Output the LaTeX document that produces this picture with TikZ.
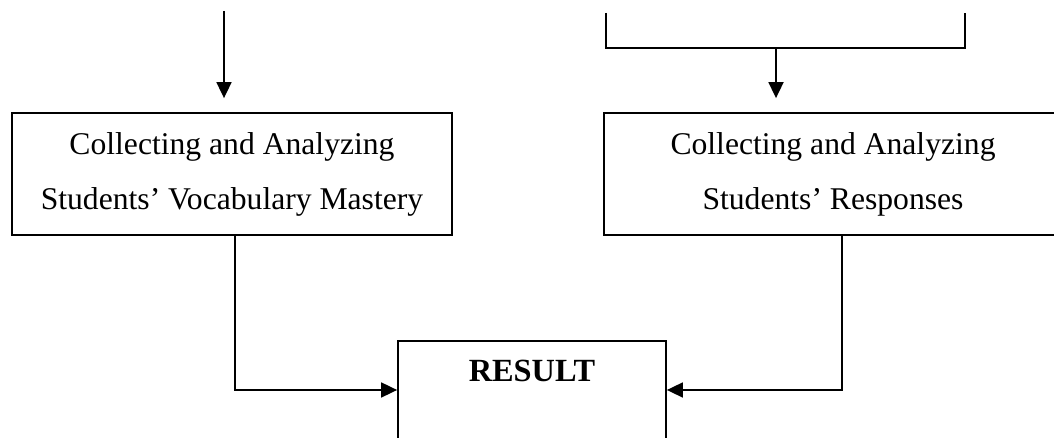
\documentclass[tikz,border=0pt]{standalone}
\usepackage{fontspec}
\setmainfont{Liberation Serif}
\usetikzlibrary{arrows.meta}
\tikzset{
  stage/.style={shape=rectangle,draw=black,line width=1pt,align=center,
    font=\fontsize{18pt}{31.3pt}\selectfont},
  flow/.style={line width=1pt,-{Triangle[length=0.32cm,width=0.3cm]}}
}
\begin{document}
\begin{tikzpicture}
\clip (0,0) rectangle (21.08,8.76);
\node[stage,minimum width=8.8cm,minimum height=2.44cm] (vocab) at (4.64,5.28) {Collecting and Analyzing\\Students’ Vocabulary Mastery};
\node[stage,minimum width=9.16cm,minimum height=2.44cm] (resp) at (16.66,5.28) {Collecting and Analyzing\\Students’ Responses};
\node[stage,font=\fontsize{18.4pt}{22pt}\selectfont\bfseries,minimum width=5.36cm,inner sep=0pt,text height=0.82cm,text depth=1.14cm] (res) at (10.64,0.96) {RESULT};
\coordinate (topL) at (4.48,8.54);
\coordinate (brA) at (12.12,8.50);
\coordinate (brB) at (19.30,8.50);
\coordinate (brM) at (15.52,7.80);
\draw[flow,shorten >=0.28cm] (topL) -- (topL |- vocab.north);
\draw[line width=1pt] (brA) |- (brM) -| (brB);
\draw[flow,shorten >=0.28cm] (brM) -- (brM |- resp.north);
\draw[flow] ([xshift=0.06cm]vocab.south) |- (res.west);
\draw[flow] ([xshift=0.18cm]resp.south) |- (res.east);
\end{tikzpicture}
\end{document}
